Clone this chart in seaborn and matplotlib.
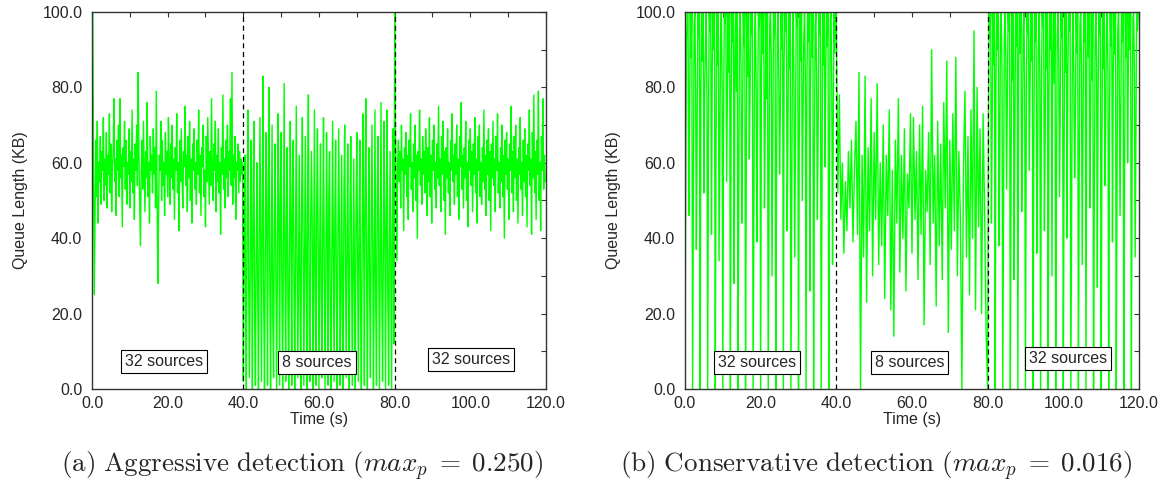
import numpy as np
import pandas as pd
import matplotlib
matplotlib.use("Agg")
import matplotlib.pyplot as plt
from matplotlib.ticker import MultipleLocator, FormatStrFormatter
import seaborn as sns

# queue samples (seconds between samples per phase)
phase_starts = [0, 40, 80]
phase_labels = ["32 sources", "8 sources", "32 sources"]
aggr_steps = [0.2, 0.2, 0.2]
cons_steps = [0.2, 0.4, 0.2]

# (a) aggressive detection, max_p = 0.250
aggr_32_first = [
    0, 100, 64, 25, 47, 66, 51, 71, 44, 60, 55, 67, 49, 63, 58, 72, 50, 61, 54, 68,
    48, 62, 57, 73, 52, 65, 47, 59, 63, 77, 55, 61, 46, 66, 58, 70, 51, 77, 56, 62,
    43, 64, 59, 71, 53, 66, 49, 60, 57, 69, 48, 63, 55, 74, 52, 61, 45, 65, 58, 70,
    54, 84, 62, 50, 38, 57, 66, 53, 71, 59, 47, 63, 56, 76, 51, 60, 44, 67, 58, 62,
    52, 69, 57, 64, 48, 79, 55, 28, 47, 62, 58, 71, 50, 66, 54, 60, 46, 68, 57, 63,
    51, 72, 59, 49, 65, 56, 70, 53, 61, 45, 64, 58, 73, 52, 60, 42, 66, 55, 69, 57,
    48, 63, 59, 75, 54, 62, 47, 67, 56, 71, 50, 61, 44, 65, 58, 69, 53, 60, 49, 66,
    57, 74, 52, 62, 46, 64, 59, 70, 51, 58, 43, 67, 55, 72, 60, 49, 63, 54, 77, 56,
    50, 65, 58, 71, 47, 62, 55, 69, 52, 60, 41, 64, 57, 78, 53, 61, 48, 66, 56, 70,
    51, 63, 58, 77, 54, 84, 49, 62, 56, 67, 45, 60, 58, 65, 52, 63, 55, 61, 57, 60,
]
aggr_8 = [
    2, 38, 62, 24, 0, 45, 74, 31, 3, 29, 66, 40, 0, 52, 71, 18, 1, 35, 60, 27,
    0, 41, 72, 36, 2, 48, 83, 22, 0, 33, 68, 44, 1, 55, 80, 29, 0, 37, 70, 19,
    3, 43, 65, 34, 0, 30, 73, 47, 1, 50, 68, 25, 0, 39, 81, 33, 2, 46, 64, 21,
    0, 34, 71, 42, 1, 53, 66, 28, 0, 40, 75, 35, 3, 31, 62, 23, 0, 47, 72, 39,
    1, 36, 67, 30, 0, 54, 78, 20, 2, 42, 63, 45, 0, 33, 74, 26, 1, 49, 69, 37,
    0, 38, 65, 24, 3, 44, 72, 32, 0, 30, 68, 41, 1, 51, 63, 19, 0, 35, 71, 36,
    2, 45, 66, 27, 0, 39, 69, 43, 1, 28, 62, 22, 0, 52, 70, 34, 3, 37, 65, 29,
    0, 46, 67, 40, 1, 32, 61, 25, 0, 48, 68, 37, 2, 41, 66, 21, 0, 35, 73, 44,
    1, 55, 77, 30, 0, 38, 64, 26, 3, 43, 70, 39, 0, 31, 74, 23, 1, 50, 67, 35,
    0, 40, 76, 28, 2, 34, 71, 42, 0, 47, 74, 24, 1, 36, 63, 33, 0, 44, 69, 12,
]
aggr_32_second = [
    100, 71, 52, 34, 60, 66, 55, 63, 48, 70, 58, 61, 42, 64, 57, 68, 51, 62, 45, 66,
    59, 73, 53, 60, 47, 65, 56, 70, 50, 62, 40, 63, 58, 74, 54, 61, 49, 67, 57, 63,
    52, 69, 60, 46, 64, 55, 72, 51, 62, 44, 66, 58, 70, 53, 60, 48, 65, 56, 75, 54,
    61, 47, 67, 57, 71, 50, 63, 41, 64, 56, 69, 52, 60, 46, 66, 58, 73, 55, 62, 49,
    65, 57, 70, 51, 61, 45, 67, 59, 76, 53, 62, 48, 64, 56, 71, 50, 60, 43, 66, 58,
    69, 54, 63, 47, 65, 57, 72, 52, 61, 44, 67, 58, 70, 51, 60, 49, 64, 55, 74, 53,
    62, 46, 66, 57, 69, 50, 63, 42, 65, 56, 71, 54, 61, 47, 67, 58, 73, 52, 60, 48,
    64, 55, 70, 51, 62, 40, 66, 57, 68, 53, 61, 45, 65, 58, 75, 52, 63, 47, 67, 56,
    70, 50, 61, 44, 64, 57, 72, 53, 60, 46, 66, 55, 69, 51, 62, 43, 65, 58, 74, 54,
    61, 41, 68, 56, 78, 52, 63, 45, 66, 57, 79, 50, 60, 42, 67, 58, 77, 53, 62, 55,
]

# (b) conservative detection, max_p = 0.016
cons_32_first = [
    0, 58, 92, 100, 100, 46, 71, 100, 88, 100, 0, 49, 96, 100, 82, 37, 66, 100, 93, 100,
    0, 80, 100, 87, 100, 52, 78, 91, 100, 78, 0, 69, 100, 95, 100, 41, 84, 100, 90, 100,
    0, 61, 100, 86, 100, 34, 63, 93, 100, 81, 0, 73, 100, 97, 100, 55, 79, 100, 84, 100,
    0, 76, 100, 92, 100, 28, 88, 100, 79, 100, 0, 52, 95, 100, 86, 44, 68, 100, 91, 100,
    0, 59, 100, 83, 100, 61, 79, 100, 94, 100, 0, 45, 92, 100, 80, 39, 72, 100, 96, 100,
    0, 85, 100, 89, 100, 48, 70, 100, 77, 100, 0, 50, 97, 100, 88, 30, 67, 100, 93, 100,
    0, 56, 94, 100, 82, 57, 74, 100, 90, 100, 0, 87, 100, 95, 100, 42, 66, 100, 85, 100,
    0, 48, 91, 100, 79, 35, 70, 100, 96, 100, 0, 64, 100, 87, 100, 50, 72, 93, 100, 84,
    0, 77, 100, 92, 100, 26, 82, 100, 88, 100, 0, 58, 96, 100, 81, 45, 69, 100, 94, 100,
    0, 51, 100, 86, 100, 59, 83, 100, 91, 100, 0, 62, 98, 100, 80, 33, 71, 100, 89, 100,
]
cons_8 = [
    100, 52, 78, 45, 60, 36, 55, 42, 63, 48,
    66, 39, 58, 71, 41, 84, 0, 62, 35, 83,
    23, 64, 42, 77, 30, 68, 45, 81, 33, 60,
    38, 70, 24, 62, 46, 74, 21, 58, 14, 66,
    44, 77, 31, 62, 40, 69, 26, 57, 48, 73,
    36, 72, 45, 63, 29, 70, 41, 75, 17, 58,
    47, 68, 33, 90, 44, 62, 22, 71, 38, 65,
    29, 76, 48, 87, 15, 66, 37, 73, 42, 88,
    30, 63, 45, 0, 58, 79, 35, 67, 25, 74,
    40, 95, 21, 80, 43, 69, 20, 73, 47, 15,
]
cons_32_second = [
    0, 72, 100, 93, 100, 44, 70, 100, 86, 100, 0, 81, 100, 90, 100, 38, 63, 97, 100, 84,
    0, 49, 93, 100, 88, 53, 76, 100, 95, 100, 0, 58, 100, 82, 100, 29, 70, 100, 91, 100,
    0, 86, 100, 89, 100, 47, 66, 95, 100, 79, 0, 67, 100, 94, 100, 58, 80, 100, 87, 100,
    0, 61, 100, 92, 100, 36, 60, 90, 100, 83, 0, 74, 100, 96, 100, 42, 65, 100, 85, 100,
    0, 78, 100, 90, 100, 30, 89, 100, 81, 100, 0, 54, 94, 100, 88, 51, 75, 100, 93, 100,
    0, 60, 100, 84, 100, 40, 83, 100, 95, 100, 0, 47, 92, 100, 80, 56, 73, 100, 89, 100,
    0, 56, 97, 100, 86, 33, 65, 100, 92, 100, 0, 85, 100, 88, 100, 48, 68, 100, 82, 100,
    0, 50, 91, 100, 87, 27, 77, 100, 94, 100, 0, 62, 100, 85, 100, 54, 71, 96, 100, 83,
    0, 68, 100, 91, 100, 39, 84, 100, 89, 100, 0, 53, 95, 100, 81, 46, 75, 100, 92, 100,
    0, 57, 100, 88, 100, 60, 86, 100, 90, 100, 0, 64, 98, 100, 84, 35, 70, 100, 95, 100,
]

captions = [
    r"$\mathrm{(a)\ Aggressive\ detection\ (}max_p\;=\;0.250\mathrm{)}$",
    r"$\mathrm{(b)\ Conservative\ detection\ (}max_p\;=\;0.016\mathrm{)}$",
]


def build_frame(segments, steps):
    rows = []
    for start, seg, step in zip(phase_starts, segments, steps):
        t = start + step * np.arange(len(seg))
        rows.append(pd.DataFrame({"time": t, "queue": seg}))
    return pd.concat(rows, ignore_index=True)


panels = [
    build_frame([aggr_32_first, aggr_8, aggr_32_second], aggr_steps),
    build_frame([cons_32_first, cons_8, cons_32_second], cons_steps),
]

sns.set_style("white")
plt.rcParams["font.family"] = ["Liberation Sans", "DejaVu Sans"]
plt.rcParams["mathtext.fontset"] = "cm"

fig = plt.figure(figsize=(11.64, 4.93), dpi=100)
ax_lefts = [92 / 1164, 685 / 1164]
box_spots = [
    [(19.0, 7.4), (59.5, 7.1), (100.2, 7.9)],
    [(19.0, 7.1), (59.4, 7.1), (101.2, 8.2)],
]
caption_x = [302 / 1164, 876 / 1164]

for i, df in enumerate(panels):
    ax = fig.add_axes([ax_lefts[i], 0.211, 0.390, 0.7647])
    sns.lineplot(data=df, x="time", y="queue", ax=ax, color="#00ff00",
                 linewidth=1.0, estimator=None, sort=False)
    for edge in phase_starts[1:]:
        ax.axvline(edge, color="black", linewidth=0.9, linestyle=(0, (4, 3)), zorder=3)
    for (bx, by), lab in zip(box_spots[i], phase_labels):
        ax.text(bx, by, lab, ha="center", va="center", fontsize=11.5, zorder=4,
                bbox=dict(boxstyle="square,pad=0.25", facecolor="white",
                          edgecolor="black", linewidth=0.8))
    ax.set_xlim(0, 120)
    ax.set_ylim(0, 100)
    ax.xaxis.set_major_locator(MultipleLocator(20))
    ax.xaxis.set_minor_locator(MultipleLocator(10))
    ax.yaxis.set_major_locator(MultipleLocator(20))
    ax.yaxis.set_minor_locator(MultipleLocator(10))
    ax.xaxis.set_major_formatter(FormatStrFormatter("%.1f"))
    ax.yaxis.set_major_formatter(FormatStrFormatter("%.1f"))
    ax.tick_params(which="both", direction="in", top=True, right=True,
                   length=3.5, width=0.8, color="#333333", labelsize=11.5)
    ax.tick_params(axis="x", which="major", pad=5)
    ax.tick_params(axis="y", which="major", pad=7)
    for sp in ax.spines.values():
        sp.set_color("#333333")
        sp.set_linewidth(1.0)
    ax.set_xlabel("Time (s)", fontsize=11.5)
    ax.set_ylabel("Queue Length (KB)", fontsize=11.5)
    ax.xaxis.set_label_coords(0.5, -0.06)
    ax.yaxis.set_label_coords(-0.14, 0.5)
    fig.text(caption_x[i], 1 - 466 / 493, captions[i], ha="center", va="center",
             fontsize=19.5)

fig.savefig("out.png", dpi=100)
